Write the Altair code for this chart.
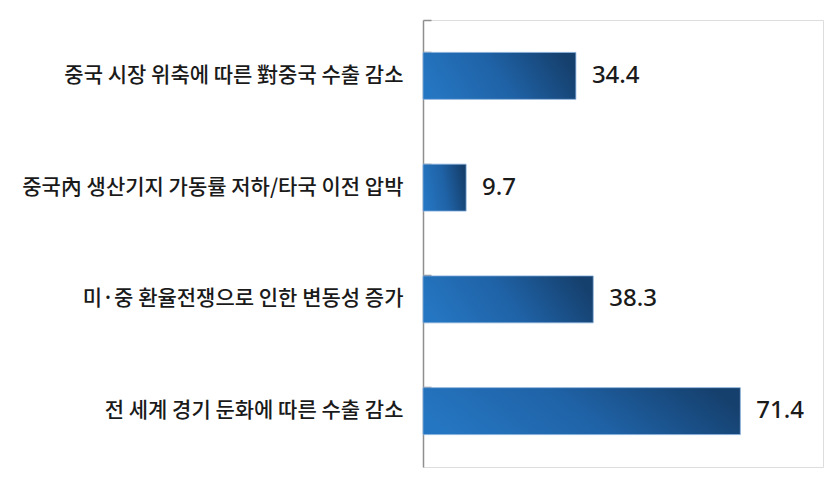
import altair as alt
import pandas as pd

categories = [
    "중국 시장 위축에 따른 對중국 수출 감소",
    "중국內 생산기지 가동률 저하/타국 이전 압박",
    "미·중 환율전쟁으로 인한 변동성 증가",
    "전 세계 경기 둔화에 따른 수출 감소",
]
values = [34.4, 9.7, 38.3, 71.4]

df = pd.DataFrame({"category": categories, "value": values})

PLOT_W = 400
PLOT_H = 447

y_enc_left = alt.Y(
    "category:N",
    sort=categories,
    scale=alt.Scale(paddingInner=0.58, paddingOuter=0.29),
    axis=alt.Axis(
        title=None,
        orient="left",
        domain=False,
        ticks=False,
        labelFont="Noto Sans CJK KR",
        labelFontSize=21,
        labelFontWeight=500,
        labelColor="#1a1a1a",
        labelPadding=20,
        labelLimit=420,
    ),
)

y_enc_right = alt.Y(
    "category:N",
    sort=categories,
    axis=alt.Axis(
        title=None,
        orient="right",
        offset=-PLOT_W,
        labels=False,
        domain=True,
        domainColor="#8f8f8f",
        domainWidth=1.5,
        ticks=True,
        tickColor="#8f8f8f",
        tickWidth=1.5,
        tickSize=8,
        bandPosition=0,
        tickExtra=True,
    ),
)

x_enc = alt.X(
    "value:Q",
    scale=alt.Scale(domain=[0, 90], nice=False),
    axis=None,
)

grad = alt.Gradient(
    gradient="linear",
    stops=[
        alt.GradientStop(color="#2576c2", offset=0),
        alt.GradientStop(color="#1f62a6", offset=0.5),
        alt.GradientStop(color="#153f6c", offset=1),
    ],
    x1=0, x2=1, y1=0.6, y2=0.4,
)

bars = alt.Chart(df).mark_bar(
    color=grad,
    stroke="#86aedb",
    strokeWidth=0.8,
).encode(x=x_enc, y=y_enc_left)

labels = alt.Chart(df).mark_text(
    align="left",
    baseline="middle",
    dx=16,
    font="Noto Sans",
    fontSize=24,
    fontWeight=500,
    color="#1a1a1a",
).encode(x=x_enc, y=y_enc_right, text=alt.Text("value:Q", format=".1f"))

chart = (
    alt.layer(bars, labels)
    .resolve_axis(y="independent")
    .properties(
        width=PLOT_W,
        height=PLOT_H,
        autosize=alt.AutoSizeParams(type="none"),
        padding={"left": 415, "top": 12, "right": 4, "bottom": 2},
    )
    .configure_view(stroke=None)
    .configure(background="white")
)

chart.save("out.html", embed_options={"renderer": "svg", "actions": False})
